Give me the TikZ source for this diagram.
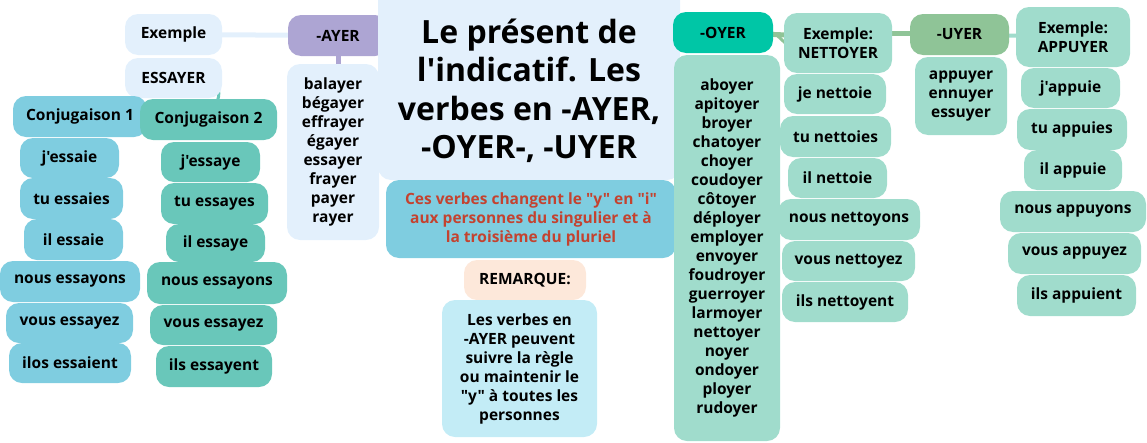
\documentclass[tikz,border=0pt]{standalone}
\usepackage{fontspec}
\setmainfont{Open Sans}[Ligatures=TeXOff]
\definecolor{lblue}{HTML}{E3F0FC}
\definecolor{purp}{HTML}{ADA5D3}
\definecolor{tealdk}{HTML}{00C6A6}
\definecolor{mint}{HTML}{A0DCCC}
\definecolor{grn}{HTML}{8FC497}
\definecolor{cblue}{HTML}{7FCDE0}
\definecolor{cteal}{HTML}{69C7BA}
\definecolor{redtxt}{HTML}{C4422F}
\definecolor{peach}{HTML}{FDE8DA}
\definecolor{pblue}{HTML}{C3ECF6}
\tikzset{
  box/.style={rounded corners=13pt, inner sep=0pt, align=center, font=\fontsize{15.5}{19}\selectfont\bfseries},
  conn/.style={line width=5pt},
}
\newcommand{\bx}[6]{\node[box, fill=#1, minimum width=#4pt, minimum height=#5pt] (#2) at (#3) {#6};}
\begin{document}
\begin{tikzpicture}[x=1pt,y=-1pt]
\useasboundingbox (0,0) rectangle (1147,442);
% connectors (behind)
\draw[conn, lblue] (173.5,34.5) -- (338,35.5);
\draw[conn, purp] (338,35.5) -- (338,100);
\draw[line width=3pt, cteal] (173.5,78) .. controls (226,78) and (226,90) .. (208,119);
\draw[conn, grn] (723,32.5) -- (838,37);
\draw[line width=3pt, grn] (773,33) .. controls (780,36) and (782,42) .. (790,46);
\draw[conn, grn] (838,33) -- (959.5,33);
\draw[line width=4pt, mint] (959.5,34.5) -- (1073,37);
% left
\bx{lblue}{ex}{173.5,34.5}{97}{41}{Exemple}
\bx{lblue}{essayer}{173.5,78}{97}{40}{ESSAYER}
\bx{cblue}{conja}{80,116.5}{134}{41}{Conjugaison 1}
\bx{cblue}{a1}{69.5,158}{99}{40}{j'essaie}
\bx{cblue}{a2}{71.5,198.5}{103}{41}{tu essaies}
\bx{cblue}{a3}{73.5,239.5}{99}{41}{il essaie}
\bx{cblue}{a4}{70,281.5}{140}{41}{nous essayons}
\bx{cblue}{a5}{69.5,323}{127}{40}{vous essayez}
\bx{cblue}{a6}{70,363}{122}{40}{ilos essaient}
\bx{cteal}{conjb}{208.5,119.5}{137}{41}{Conjugaison 2}
\bx{cteal}{b1}{210.5,162}{99}{40}{j'essaye}
\bx{cteal}{b2}{214.5,203.5}{107}{41}{tu essayes}
\bx{cteal}{b3}{215.5,243}{99}{38}{il essaye}
\bx{cteal}{b4}{217,283}{140}{42}{nous essayons}
\bx{cteal}{b5}{213.5,325}{127}{40}{vous essayez}
\bx{cteal}{b6}{214,366.5}{116}{41}{ils essayent}
% AYER
\bx{purp}{ayer}{338,35.5}{100}{41}{-AYER}
\bx{lblue}{ayerlist}{333,152}{92}{176}{balayer\\bégayer\\effrayer\\égayer\\essayer\\frayer\\payer\\rayer}
% title
\node[box, fill=lblue, minimum width=302pt, minimum height=196pt] (titlebox) at (529,82) {};
\node[align=center, inner sep=0pt, font=\fontsize{32}{38.5}\selectfont\bfseries] (title) at (529,91) {Le présent de\\l'indicatif. Les\\verbes en -AYER,\\-OYER-, -UYER};
\bx{cblue}{rule}{531,219}{290}{78}{\color{redtxt}Ces verbes changent le "y" en "i"\\\color{redtxt}aux personnes du singulier et à\\\color{redtxt}la troisième du pluriel}
\bx{peach}{rem}{525,280}{122}{40}{REMARQUE:}
\bx{pblue}{remtxt}{519.5,368.5}{155}{137}{Les verbes en\\-AYER peuvent\\suivre la règle\\ou maintenir le\\"y" à toutes les\\personnes}
% OYER
\bx{tealdk}{oyer}{723,32.5}{100}{41}{-OYER}
\bx{mint}{oyerlist}{727,248}{106}{386}{aboyer\\apitoyer\\broyer\\chatoyer\\choyer\\coudoyer\\côtoyer\\déployer\\employer\\envoyer\\foudroyer\\guerroyer\\larmoyer\\nettoyer\\noyer\\ondoyer\\ployer\\rudoyer}
\bx{mint}{exn}{838,43}{108}{60}{Exemple:\\NETTOYER}
\bx{mint}{n1}{835,94}{102}{40}{je nettoie}
\bx{mint}{n2}{835.5,136.5}{111}{41}{tu nettoies}
\bx{mint}{n3}{837.5,178}{99}{40}{il nettoie}
\bx{mint}{n4}{849,219.5}{142}{41}{nous nettoyons}
\bx{mint}{n5}{848.5,261}{133}{40}{vous nettoyez}
\bx{mint}{n6}{845,302}{126}{40}{ils nettoyent}
% UYER
\bx{grn}{uyer}{959.5,34.5}{99}{41}{-UYER}
\bx{mint}{uyerlist}{961,96}{92}{78}{appuyer\\ennuyer\\essuyer}
\bx{mint}{exa}{1073,37}{114}{60}{Exemple:\\APPUYER}
\bx{mint}{p1}{1070.5,88}{99}{40}{j'appuie}
\bx{mint}{p2}{1072,129.5}{110}{41}{tu appuies}
\bx{mint}{p3}{1073,170}{98}{40}{il appuie}
\bx{mint}{p4}{1073,211.5}{146}{41}{nous appuyons}
\bx{mint}{p5}{1074.5,253.5}{133}{41}{vous appuyez}
\bx{mint}{p6}{1076.5,295.5}{119}{41}{ils appuient}
\end{tikzpicture}
\end{document}
